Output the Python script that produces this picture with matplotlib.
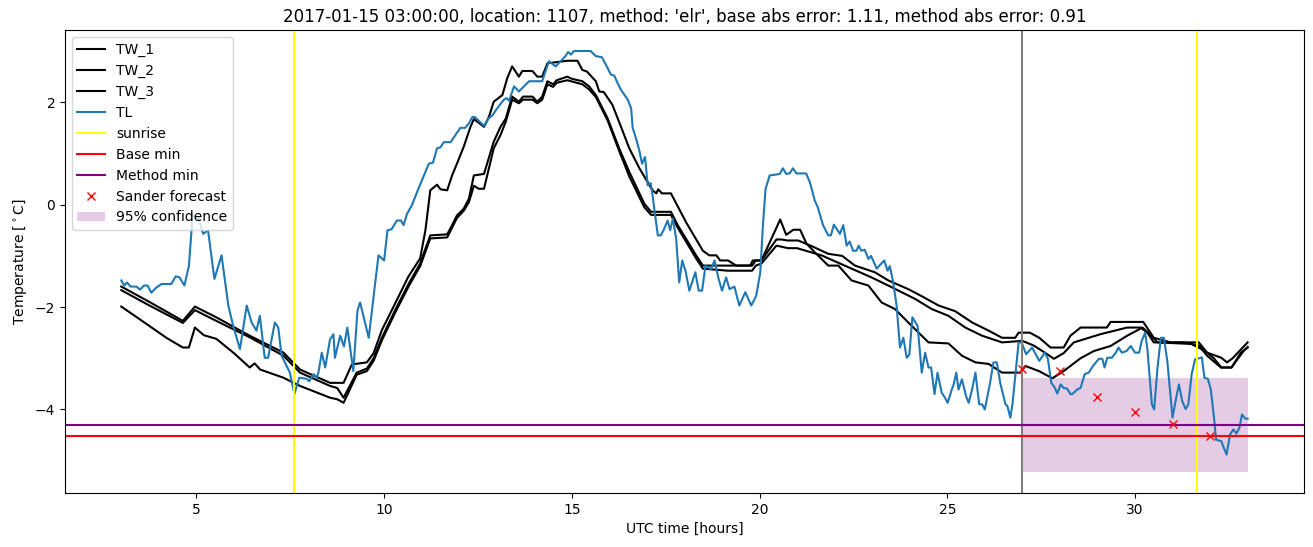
import matplotlib.pyplot as plt

# wet bulb temperature series (hours since start of day, deg C)
tw1_t = [3.0, 3.75, 4.64, 4.96, 5.53, 6.42, 7.32, 7.76, 8.56, 8.75, 8.92, 9.14, 9.54, 9.72, 9.94,
         10.3, 10.65, 10.96, 11.1, 11.23, 11.41, 11.5, 11.68, 11.81, 11.94, 12.12, 12.3, 12.39,
         12.52, 12.66, 12.79, 12.92, 13.15, 13.28, 13.41, 13.59, 13.68, 13.95, 14.08, 14.21, 14.35,
         14.88, 15.15, 15.28, 15.4, 15.64, 15.73, 15.85, 16.08, 16.31, 16.53, 16.8, 17.15, 17.25,
         17.3, 17.4, 17.64, 18.04, 18.49, 18.66, 18.85, 18.95, 19.16, 19.38, 19.75, 19.82, 20.05,
         20.55, 20.71, 20.9, 21.08, 21.25, 21.47, 21.83, 22.1, 22.45, 22.9, 23.25, 23.61, 23.96,
         24.5, 25.03, 25.39, 25.75, 26.1, 26.46, 26.95, 27.08, 27.44, 27.8, 28.1, 28.55, 28.9,
         29.35, 29.79, 30.2, 30.35, 30.6, 31.5, 31.85, 32.1, 32.3, 32.57, 32.9, 33.0]
tw1_v = [-1.60, -1.90, -2.27, -1.99, -2.20, -2.56, -2.89, -3.22, -3.48, -3.48, -3.48, -3.12, -3.08,
         -2.90, -2.45, -1.92, -1.40, -1.05, -0.50, 0.28, 0.39, 0.30, 0.28, 0.57, 0.80, 1.13, 1.52,
         1.67, 1.60, 1.52, 1.71, 2.01, 2.14, 2.47, 2.70, 2.50, 2.61, 2.61, 2.50, 2.50, 2.76, 2.81,
         2.81, 2.63, 2.60, 2.41, 2.21, 2.20, 1.95, 1.52, 1.10, 0.71, 0.28, 0.22, 0.30, 0.22, 0.22,
         -0.34, -0.90, -0.99, -0.99, -1.09, -1.09, -1.19, -1.19, -1.09, -1.09, -0.29, -0.59, -0.49,
         -0.49, -0.76, -0.93, -1.19, -1.19, -1.48, -1.58, -1.91, -2.04, -2.30, -2.69, -2.71, -2.95,
         -3.08, -3.11, -3.28, -3.28, -3.15, -3.25, -3.39, -3.25, -3.00, -2.86, -2.76, -2.56, -2.40,
         -2.50, -2.69, -2.72, -2.85, -3.00, -3.18, -3.18, -2.85, -2.78]

tw2_t = [3.0, 3.75, 4.64, 4.96, 5.53, 6.42, 7.32, 7.76, 8.56, 8.75, 8.92, 9.27, 9.54, 9.72, 9.94,
         10.3, 10.65, 10.96, 11.1, 11.23, 11.68, 11.81, 11.94, 12.12, 12.26, 12.39, 12.66, 12.92,
         13.1, 13.24, 13.41, 13.59, 13.7, 13.95, 14.08, 14.21, 14.35, 14.5, 14.6, 14.88, 14.99,
         15.28, 15.46, 15.64, 15.95, 16.26, 16.53, 16.93, 17.11, 17.64, 17.82, 18.31, 18.49, 19.8,
         19.9, 20.05, 20.45, 20.58, 20.74, 21.03, 21.36, 21.83, 22.2, 22.54, 23.07, 23.43, 23.96,
         24.3, 24.77, 25.21, 25.66, 26.1, 26.46, 26.81, 26.9, 27.2, 27.45, 27.75, 28.1, 28.28,
         28.55, 29.25, 29.35, 30.22, 30.5, 30.95, 31.7, 31.92, 32.3, 32.45, 32.6, 33.0]
tw2_v = [-1.67, -1.97, -2.31, -2.06, -2.27, -2.59, -2.95, -3.28, -3.54, -3.58, -3.77, -3.28, -3.20,
         -3.00, -2.60, -2.05, -1.55, -1.15, -0.86, -0.60, -0.58, -0.40, -0.21, -0.08, 0.12, 0.57,
         0.60, 1.23, 1.52, 1.68, 2.11, 2.01, 2.11, 2.11, 2.01, 2.11, 2.41, 2.35, 2.43, 2.50, 2.46,
         2.41, 2.31, 2.14, 1.69, 1.10, 0.64, 0.02, -0.14, -0.14, -0.40, -0.99, -1.19, -1.19, -1.09,
         -1.09, -0.68, -0.68, -0.70, -0.70, -0.80, -0.96, -1.00, -1.19, -1.32, -1.48, -1.65, -1.78,
         -1.97, -2.08, -2.30, -2.46, -2.60, -2.60, -2.50, -2.50, -2.60, -2.79, -2.79, -2.56, -2.40,
         -2.40, -2.29, -2.29, -2.60, -2.69, -2.69, -2.89, -2.99, -3.08, -3.00, -2.69]

tw3_t = [3.0, 3.75, 4.2, 4.64, 4.8, 4.96, 5.2, 5.53, 6.0, 6.42, 6.55, 6.7, 7.32, 7.76, 8.56, 8.75,
         8.92, 9.27, 9.54, 9.72, 9.94, 10.3, 10.65, 10.96, 11.1, 11.23, 11.68, 11.81, 11.94, 12.12,
         12.26, 12.39, 12.52, 12.66, 12.92, 13.1, 13.24, 13.41, 13.59, 13.7, 13.95, 14.08, 14.21,
         14.35, 14.5, 14.6, 14.88, 15.28, 15.46, 15.64, 15.95, 16.26, 16.53, 16.93, 17.11, 17.64,
         17.82, 18.31, 18.49, 19.16, 19.8, 19.9, 20.05, 20.45, 20.76, 21.0, 21.65, 22.36, 22.98,
         23.43, 24.14, 24.59, 25.03, 25.48, 25.93, 26.46, 27.0, 27.3, 27.6, 27.84, 28.1, 28.37,
         29.08, 29.79, 30.15, 30.33, 30.5, 31.3, 31.7, 31.92, 32.29, 32.57, 32.82, 33.0]
tw3_v = [-1.99, -2.37, -2.60, -2.79, -2.79, -2.40, -2.55, -2.62, -2.90, -3.18, -3.10, -3.22, -3.38,
         -3.54, -3.77, -3.80, -3.87, -3.32, -3.25, -3.05, -2.65, -2.10, -1.60, -1.20, -0.92, -0.66,
         -0.64, -0.45, -0.26, -0.12, 0.05, 0.37, 0.31, 0.31, 1.10, 1.36, 1.62, 2.05, 1.98, 2.05,
         2.05, 1.98, 2.05, 2.35, 2.30, 2.38, 2.43, 2.35, 2.25, 2.10, 1.65, 1.05, 0.55, -0.05, -0.20,
         -0.20, -0.45, -1.05, -1.25, -1.29, -1.29, -1.19, -1.15, -0.80, -0.85, -0.85, -0.99, -1.22,
         -1.42, -1.58, -1.84, -2.04, -2.17, -2.40, -2.56, -2.69, -2.66, -2.75, -2.89, -3.01, -2.90,
         -2.69, -2.53, -2.40, -2.40, -2.50, -2.69, -2.69, -2.75, -2.95, -3.18, -3.18, -2.89, -2.79]

# air temperature
tl_t = [3.0, 3.08, 3.15, 3.25, 3.4, 3.5, 3.6, 3.7, 3.8, 3.93, 4.07, 4.33, 4.45, 4.55, 4.68, 4.8,
        4.9, 5.05, 5.18, 5.31, 5.48, 5.67, 5.85, 5.98, 6.16, 6.34, 6.47, 6.6, 6.69, 6.82, 6.91,
        7.09, 7.18, 7.27, 7.49, 7.61, 7.74, 7.94, 8.0, 8.12, 8.2, 8.25, 8.34, 8.43, 8.56, 8.65,
        8.69, 8.83, 8.93, 9.02, 9.18, 9.29, 9.36, 9.59, 9.85, 10.0, 10.09, 10.2, 10.34, 10.45,
        10.52, 10.61, 10.74, 10.88, 11.01, 11.19, 11.3, 11.41, 11.5, 11.59, 11.77, 11.9, 12.03,
        12.16, 12.26, 12.35, 12.42, 12.52, 12.66, 12.79, 12.88, 13.01, 13.19, 13.26, 13.33, 13.46,
        13.59, 13.86, 14.21, 14.39, 14.57, 14.83, 14.9, 14.98, 15.05, 15.5, 15.64, 15.8, 15.91,
        16.04, 16.13, 16.22, 16.31, 16.49, 16.58, 16.62, 16.71, 16.8, 16.87, 16.95, 17.02, 17.1,
        17.15, 17.29, 17.37, 17.46, 17.55, 17.62, 17.69, 17.78, 17.86, 17.94, 18.03, 18.13, 18.29,
        18.38, 18.47, 18.56, 18.71, 18.8, 18.91, 19.0, 19.11, 19.2, 19.33, 19.46, 19.62, 19.78,
        19.91, 20.02, 20.09, 20.16, 20.27, 20.54, 20.62, 20.71, 20.8, 20.89, 20.98, 21.24, 21.34,
        21.47, 21.55, 21.69, 21.83, 21.9, 21.98, 22.14, 22.23, 22.32, 22.4, 22.49, 22.58, 22.64,
        22.71, 22.8, 22.9, 22.97, 23.12, 23.32, 23.41, 23.47, 23.56, 23.65, 23.74, 23.83, 23.92,
        23.99, 24.07, 24.21, 24.32, 24.41, 24.5, 24.57, 24.66, 24.74, 24.85, 24.94, 25.01, 25.12,
        25.17, 25.24, 25.3, 25.39, 25.5, 25.57, 25.66, 25.75, 25.85, 25.93, 26.0, 26.14, 26.23,
        26.32, 26.41, 26.55, 26.6, 26.68, 26.74, 26.81, 26.9, 26.98, 27.1, 27.26, 27.45, 27.6,
        27.68, 27.77, 27.86, 27.93, 28.02, 28.1, 28.19, 28.28, 28.33, 28.46, 28.55, 28.66, 28.77,
        28.88, 29.04, 29.13, 29.19, 29.26, 29.38, 29.49, 29.56, 29.65, 29.77, 29.89, 30.0, 30.11,
        30.18, 30.27, 30.33, 30.45, 30.51, 30.6, 30.69, 30.77, 30.86, 31.0, 31.09, 31.17, 31.26,
        31.35, 31.42, 31.51, 31.6, 31.71, 31.78, 31.85, 31.94, 32.02, 32.1, 32.16, 32.3, 32.35,
        32.44, 32.53, 32.62, 32.7, 32.78, 32.85, 32.94, 33.0]
tl_v = [-1.48, -1.58, -1.52, -1.60, -1.60, -1.66, -1.58, -1.58, -1.72, -1.62, -1.55, -1.55, -1.40,
        -1.42, -1.58, -1.20, -0.20, -0.25, -0.57, -0.50, -1.45, -0.99, -1.97, -2.37, -2.82, -1.97,
        -2.30, -2.46, -2.17, -2.99, -2.99, -2.30, -2.40, -2.95, -3.28, -3.70, -3.38, -3.40, -3.45,
        -3.31, -3.38, -3.28, -2.89, -3.18, -2.63, -2.53, -2.99, -2.56, -2.77, -2.40, -3.25, -2.07,
        -1.91, -2.60, -0.99, -1.09, -0.50, -0.48, -0.31, -0.31, -0.40, -0.18, -0.01, 0.25, 0.48,
        0.80, 0.82, 1.10, 1.12, 1.22, 1.22, 1.36, 1.50, 1.50, 1.59, 1.71, 1.71, 1.64, 1.54, 1.69,
        1.74, 1.88, 2.05, 2.08, 2.03, 2.31, 2.21, 2.41, 2.41, 2.80, 2.70, 2.90, 2.98, 2.93, 3.00,
        3.00, 2.90, 2.88, 2.73, 2.54, 2.52, 2.37, 2.24, 2.05, 1.88, 1.50, 1.29, 1.05, 0.80, 0.93,
        0.38, 0.42, 0.18, -0.60, -0.60, -0.47, -0.31, -0.50, -0.27, -0.67, -1.52, -1.09, -1.30,
        -1.68, -1.32, -1.68, -1.68, -1.19, -1.26, -1.09, -1.45, -1.68, -1.42, -1.65, -1.60, -1.97,
        -1.71, -1.97, -1.78, -1.32, -0.40, 0.31, 0.57, 0.60, 0.71, 0.60, 0.61, 0.71, 0.61, 0.61,
        0.44, 0.08, -0.05, -0.40, -0.60, -0.60, -0.39, -0.57, -0.40, -0.80, -0.72, -0.90, -0.90,
        -0.80, -0.90, -0.88, -1.06, -1.00, -1.25, -1.09, -1.29, -1.20, -1.52, -1.97, -2.79, -2.60,
        -2.99, -2.93, -2.20, -2.37, -3.28, -2.89, -3.18, -3.18, -3.70, -3.28, -3.67, -3.77, -3.87,
        -3.61, -3.51, -3.28, -3.61, -3.41, -3.74, -3.87, -3.61, -3.28, -3.90, -3.90, -4.00, -3.48,
        -3.08, -3.08, -3.48, -3.90, -3.93, -4.16, -3.87, -3.35, -2.69, -2.69, -2.92, -2.79, -3.05,
        -2.89, -3.01, -3.48, -3.57, -3.69, -3.51, -3.58, -3.59, -3.70, -3.70, -3.61, -3.58, -3.31,
        -3.28, -3.15, -3.01, -3.01, -3.18, -2.99, -2.99, -2.89, -2.79, -2.89, -2.86, -2.76, -2.89,
        -2.89, -2.66, -2.50, -2.82, -3.90, -4.00, -3.18, -2.60, -2.60, -3.05, -4.16, -3.80, -3.51,
        -3.84, -3.99, -3.90, -3.31, -3.02, -3.00, -2.98, -3.38, -3.40, -3.61, -4.13, -4.59, -4.62,
        -4.72, -4.88, -4.49, -4.39, -4.47, -4.36, -4.10, -4.18, -4.18]

sunrise = [7.6, 31.66]
forecast_time = 27.0
base_min = -4.51
method_min = -4.31

sander_t = [27, 28, 29, 30, 31, 32]
sander_v = [-3.21, -3.25, -3.75, -4.04, -4.28, -4.52]
conf_t = [27, 33]
conf_low = [-5.22, -5.22]
conf_high = [-3.39, -3.39]

fig, ax = plt.subplots(figsize=(13.13, 5.47), dpi=100)

ax.plot(tw1_t, tw1_v, color='black', label='TW_1')
ax.plot(tw2_t, tw2_v, color='black', label='TW_2')
ax.plot(tw3_t, tw3_v, color='black', label='TW_3')
ax.plot(tl_t, tl_v, color='tab:blue', label='TL')
ax.axvline(sunrise[0], color='yellow', label='sunrise')
ax.axvline(sunrise[1], color='yellow')
ax.axvline(forecast_time, color='gray')
ax.axhline(base_min, color='red', label='Base min')
ax.axhline(method_min, color='purple', label='Method min')
ax.plot(sander_t, sander_v, 'x', color='red', label='Sander forecast')
ax.fill_between(conf_t, conf_low, conf_high, color='purple', alpha=0.2, linewidth=0,
                label='95% confidence')

ax.set_xlabel('UTC time [hours]')
ax.set_ylabel(r'Temperature [$^\circ$C]')
ax.set_title("2017-01-15 03:00:00, location: 1107, method: 'elr', "
             "base abs error: 1.11, method abs error: 0.91")
ax.legend(loc='upper left')

fig.subplots_adjust(left=0.0495, right=0.9931, bottom=0.0987, top=0.9452)
fig.savefig('out.png', dpi=100)
